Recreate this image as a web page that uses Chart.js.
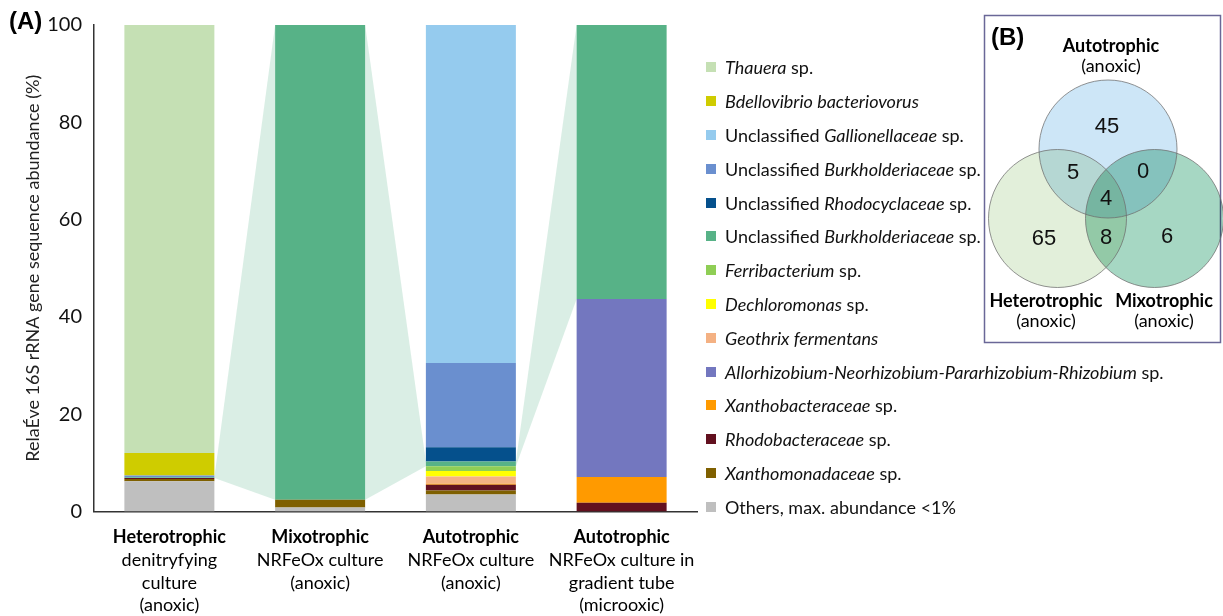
<!DOCTYPE html>
<html>
<head>
<meta charset="utf-8">
<script src="https://cdn.jsdelivr.net/npm/chart.js@4.4.1/dist/chart.umd.min.js"></script>
<style>
html,body{margin:0;padding:0;background:#fff;}
#wrap{position:relative;width:1223px;height:616px;overflow:hidden;}
#c{position:absolute;left:0;top:0;}
#legend{position:absolute;left:0;top:0;width:0;height:0;font-family:Lato,"Open Sans",sans-serif;font-size:18px;color:#111;}
.li{position:absolute;left:706px;height:22px;display:flex;align-items:center;white-space:nowrap;}
.sw{width:10px;height:10px;margin-right:9px;flex:none;}
.li i{font-style:italic;}
</style>
</head>
<body>
<div id="wrap">
<canvas id="c" width="1223" height="616"></canvas>
<div id="legend"></div>
</div>
<script>
// ---- categories (x axis) ----
const categories = ["Heterotrophic", "Mixotrophic", "Autotrophic", "Autotrophic (gradient tube)"];
const xLabelTitles = ["Heterotrophic", "Mixotrophic", "Autotrophic", "Autotrophic"];
const xLabelLines = [
  ["denitryfying", "culture", "(anoxic)"],
  ["NRFeOx culture", "(anoxic)"],
  ["NRFeOx culture", "(anoxic)"],
  ["NRFeOx culture in", "gradient tube", "(microoxic)"]
];
const yTicks = [0, 20, 40, 60, 80, 100];
const yTitle = "RelaÉve 16S rRNA gene sequence abundance (%)";

// ---- series (relative abundance %, bottom to top of stack) ----
const others            = [6.2, 0.8, 3.5, 0];
const xanthomonadaceae  = [0.5, 1.6, 0.8, 0];
const rhodobacteraceae  = [0.2, 0, 1.2, 1.8];
const xanthobacteraceae = [0, 0, 0.2, 5.3];
const allorhizobium     = [0, 0, 0, 36.6];
const geothrix          = [0, 0, 1.5, 0];
const dechloromonas     = [0, 0, 1.1, 0];
const ferribacterium    = [0, 0, 1.0, 0];
const burkhGreen        = [0.15, 97.6, 1.0, 56.3];
const rhodocyclaceae    = [0, 0, 2.9, 0];
const burkhBlue         = [0.35, 0, 17.3, 0];
const gallionellaceae   = [0, 0, 69.5, 0];
const bdellovibrio      = [4.6, 0, 0, 0];
const thauera           = [88.0, 0, 0, 0];

// legend labels (*italic* parts), in legend order top->bottom
const speciesLabels = [
  "*Thauera* sp.",
  "*Bdellovibrio bacteriovorus*",
  "Unclassified *Gallionellaceae* sp.",
  "Unclassified *Burkholderiaceae* sp.",
  "Unclassified *Rhodocyclaceae* sp.",
  "Unclassified *Burkholderiaceae* sp.",
  "*Ferribacterium* sp.",
  "*Dechloromonas* sp.",
  "*Geothrix fermentans*",
  "*Allorhizobium-Neorhizobium-Pararhizobium-Rhizobium* sp.",
  "*Xanthobacteraceae* sp.",
  "*Rhodobacteraceae* sp.",
  "*Xanthomonadaceae* sp.",
  "Others, max. abundance <1%"
];
const speciesValues = [thauera, bdellovibrio, gallionellaceae, burkhBlue, rhodocyclaceae, burkhGreen,
  ferribacterium, dechloromonas, geothrix, allorhizobium, xanthobacteraceae, rhodobacteraceae,
  xanthomonadaceae, others];
const speciesColors = ["#c5e0b4", "#cfcc00", "#95cbee", "#6a8fcf", "#05508c", "#57b287",
  "#8fce55", "#ffff00", "#f4b183", "#7377bf", "#ff9a00", "#62101f", "#7f6000", "#bfbfbf"];

// ---- Venn (B) ----
const vennSets = ["Autotrophic", "Heterotrophic", "Mixotrophic"];
const vennSetSub = ["(anoxic)", "(anoxic)", "(anoxic)"];
const vennRegions = ["A only", "A∩H", "A∩M", "A∩H∩M", "H only", "H∩M", "M only"];
const vennCounts = [45, 5, 0, 4, 65, 8, 6];

// datasets: stacked bottom -> top (reverse of legend order)
const datasets = [];
for (let i = speciesLabels.length - 1; i >= 0; i--) {
  datasets.push({
    label: speciesLabels[i].replace(/\*/g, ""),
    rawLabel: speciesLabels[i],
    data: speciesValues[i],
    backgroundColor: speciesColors[i],
    borderWidth: 0,
    barPercentage: 0.597,
    categoryPercentage: 1.0
  });
}
const greenIndex = datasets.findIndex(d => d.data === burkhGreen);

const flowPlugin = {
  id: 'flow',
  beforeDatasetsDraw(chart) {
    const meta = chart.getDatasetMeta(greenIndex);
    const ctx = chart.ctx;
    ctx.save();
    ctx.fillStyle = "rgba(87,178,135,0.22)";
    for (let i = 0; i < meta.data.length - 1; i++) {
      const a = meta.data[i], b = meta.data[i + 1];
      const ax = a.x + a.width / 2, bx = b.x - b.width / 2;
      ctx.beginPath();
      ctx.moveTo(ax, a.y);
      ctx.lineTo(bx, b.y);
      ctx.lineTo(bx, b.base);
      ctx.lineTo(ax, a.base);
      ctx.closePath();
      ctx.fill();
    }
    ctx.restore();
  }
};

const textPlugin = {
  id: 'texts',
  afterDraw(chart) {
    const ctx = chart.ctx;
    const xs = chart.scales.x;
    ctx.save();
    ctx.fillStyle = "#000";
    ctx.textBaseline = "middle";
    ctx.textAlign = "left";
    ctx.font = "bold 24px 'Liberation Sans', Arial, sans-serif";
    ctx.fillText("(A)", 9, 22);
    // x labels
    ctx.textAlign = "center";
    const y0 = chart.chartArea.bottom + 26;
    const lh = 22.7;
    categories.forEach((c, i) => {
      const x = xs.getPixelForValue(i);
      ctx.font = "bold 18px Lato, sans-serif";
      ctx.fillText(xLabelTitles[i], x, y0);
      ctx.font = "18px Lato, sans-serif";
      xLabelLines[i].forEach((t, j) => ctx.fillText(t, x, y0 + lh * (j + 1)));
    });
    // Venn diagram
    drawVenn(ctx);
    ctx.restore();
  }
};

function drawVenn(ctx) {
  const L = {
    box: [984.5, 15.5, 236, 327],
    circles: [
      {x: 1108, y: 149, r: 69, fill: "rgb(205,230,247)"},
      {x: 1057.5, y: 218.5, r: 69, fill: "rgb(226,239,218)"},
      {x: 1154.5, y: 218.5, r: 69, fill: "rgb(166,215,195)"}
    ],
    regionPos: [[1107, 127], [1073, 173], [1143, 172], [1106, 199], [1044, 239], [1106, 238], [1167, 237]],
    titlePos: [[1111, 46.5], [1046, 301.5], [1164, 301.5]]
  };
  ctx.save();
  ctx.lineWidth = 1.5;
  ctx.strokeStyle = "#6a6797";
  ctx.strokeRect(...L.box);
  ctx.fillStyle = "#000";
  ctx.textAlign = "left";
  ctx.textBaseline = "middle";
  ctx.font = "bold 24px 'Liberation Sans', Arial, sans-serif";
  ctx.fillText("(B)", 991, 38);
  ctx.globalCompositeOperation = "multiply";
  L.circles.forEach(c => {
    ctx.beginPath();
    ctx.arc(c.x, c.y, c.r, 0, Math.PI * 2);
    ctx.fillStyle = c.fill;
    ctx.fill();
  });
  ctx.globalCompositeOperation = "source-over";
  ctx.strokeStyle = "rgba(110,110,110,0.75)";
  ctx.lineWidth = 1;
  L.circles.forEach(c => {
    ctx.beginPath();
    ctx.arc(c.x, c.y, c.r, 0, Math.PI * 2);
    ctx.stroke();
  });
  ctx.fillStyle = "#111";
  ctx.textAlign = "center";
  ctx.font = "22px 'Liberation Sans', Arial, sans-serif";
  vennCounts.forEach((v, i) => ctx.fillText(String(v), L.regionPos[i][0], L.regionPos[i][1]));
  ctx.fillStyle = "#000";
  vennSets.forEach((s, i) => {
    ctx.font = "bold 18px Lato, sans-serif";
    ctx.fillText(s, L.titlePos[i][0], L.titlePos[i][1]);
    ctx.font = "18px Lato, sans-serif";
    ctx.fillText(vennSetSub[i], L.titlePos[i][0], L.titlePos[i][1] + 20);
  });
  ctx.restore();
}

const htmlLegend = {
  id: 'htmlLegend',
  afterUpdate(chart) {
    const box = document.getElementById('legend');
    box.innerHTML = "";
    const ds = chart.data.datasets.slice().reverse();
    ds.forEach((d, i) => {
      const row = document.createElement('div');
      row.className = 'li';
      row.style.top = (67.3 + i * 33.8 - 11) + 'px';
      const sw = document.createElement('span');
      sw.className = 'sw';
      sw.style.background = d.backgroundColor;
      row.appendChild(sw);
      const txt = document.createElement('span');
      txt.innerHTML = d.rawLabel.replace(/\*([^*]+)\*/g, '<i>$1</i>').replace(/</g, (m, off, s) => m);
      row.appendChild(txt);
      box.appendChild(row);
    });
  }
};

new Chart(document.getElementById('c'), {
  type: 'bar',
  data: { labels: categories, datasets },
  plugins: [flowPlugin, textPlugin, htmlLegend],
  options: {
    responsive: false,
    animation: false,
    layout: { padding: { left: 0, right: 526, top: 25, bottom: 0 } },
    plugins: { legend: { display: false }, tooltip: { enabled: false } },
    scales: {
      x: {
        stacked: true,
        grid: { display: false, drawTicks: false },
        border: { display: true, color: "#333", width: 1.5 },
        ticks: { display: false },
        afterFit: s => { s.height = 104.5; }
      },
      y: {
        stacked: true,
        min: 0, max: 100,
        afterBuildTicks: s => { s.ticks = yTicks.map(v => ({ value: v })); },
        ticks: { padding: 12, color: "#111", font: { family: "Lato", size: 20 } },
        grid: { display: false, drawTicks: false },
        border: { display: true, color: "#333", width: 1.5 },
        title: { display: true, text: yTitle, color: "#222", font: { family: "Lato", size: 18 }, padding: { top: 22, bottom: 0 } },
        afterFit: s => { s.width = 94; }
      }
    }
  }
});
</script>
</body>
</html>
